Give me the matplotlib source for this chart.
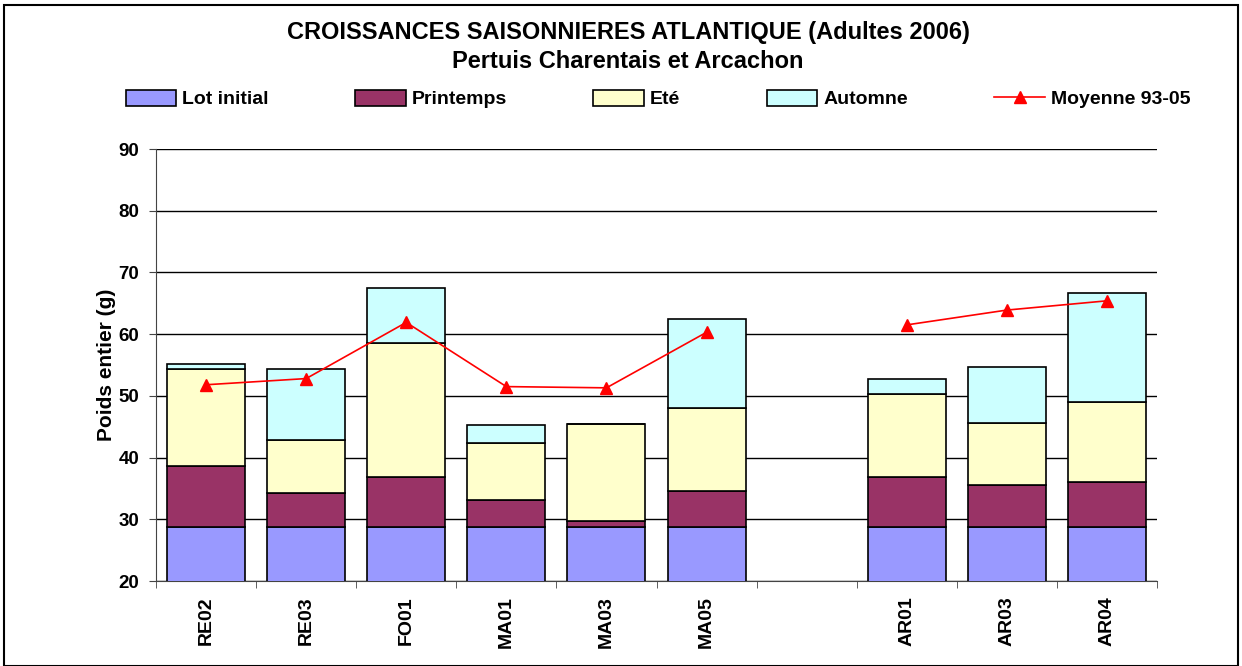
import numpy as np
import matplotlib
matplotlib.use("Agg")
import matplotlib.pyplot as plt
from matplotlib.patches import Rectangle

plt.rcParams['font.family'] = ['Liberation Sans', 'DejaVu Sans']

categories = ["RE02", "RE03", "FO01", "MA01", "MA03", "MA05", "", "AR01", "AR03", "AR04"]
# cumulative tops
lot_initial = [28.8, 28.8, 28.8, 28.8, 28.8, 28.8, np.nan, 28.8, 28.8, 28.8]
top_printemps = [38.6, 34.3, 36.8, 33.2, 29.8, 34.6, np.nan, 36.8, 35.6, 36.0]
top_ete = [54.4, 42.8, 58.5, 42.3, 45.4, 48.1, np.nan, 50.3, 45.6, 49.0]
top_automne = [55.2, 54.4, 67.5, 45.2, 45.4, 62.5, np.nan, 52.7, 54.6, 66.6]
moyenne = [51.8, 52.8, 61.9, 51.5, 51.3, 60.3, np.nan, 61.5, 63.9, 65.4]

series_names = ["Lot initial", "Printemps", "Eté", "Automne", "Moyenne 93-05"]
colors = ["#9999FF", "#993366", "#FFFFCC", "#CCFFFF"]

lot = np.array(lot_initial)
printemps = np.array(top_printemps) - lot
ete = np.array(top_ete) - np.array(top_printemps)
automne = np.array(top_automne) - np.array(top_ete)

fig = plt.figure(figsize=(12.42, 6.66), dpi=100)
ax = fig.add_axes([156/1242, 85/666, 1001/1242, 432/666])

x = np.arange(len(categories))
w = 0.78
bottom = np.zeros(len(categories))
handles = []
for vals, col, name in zip([lot, printemps, ete, automne], colors, series_names[:4]):
    v = np.nan_to_num(vals)
    b = ax.bar(x, v, w, bottom=bottom, color=col, edgecolor="black", linewidth=1.2,
               label=name, zorder=3)
    bottom = bottom + v
    handles.append(b)

ln, = ax.plot(x, moyenne, color="#FF0000", marker="^", markersize=9, linewidth=1.2,
              label=series_names[4], zorder=4)
handles.append(ln)

ax.set_xlim(-0.5, len(categories) - 0.5)
ax.set_ylim(20, 90)
ax.set_yticks(np.arange(20, 91, 10))
ax.yaxis.grid(True, color="black", linewidth=1.0, zorder=0)
ax.set_axisbelow(True)
for s in ["top", "right"]:
    ax.spines[s].set_visible(False)
ax.spines["left"].set_color("#444444")
ax.spines["bottom"].set_color("#444444")

ax.set_xticks(x)
ax.set_xticklabels(categories, rotation=90, fontsize=14, fontweight="bold")
ax.tick_params(axis="x", length=0, pad=11)
ax.set_xticks(np.arange(-0.5, len(categories), 1), minor=True)
ax.tick_params(axis="x", which="minor", length=5, direction="out", color="#444444")
ax.tick_params(axis="y", labelsize=13.5, length=5, pad=7, direction="out", color="#444444")
for t in ax.get_yticklabels():
    t.set_fontweight("bold")
ax.set_ylabel("Poids entier (g)", fontsize=15, fontweight="bold", labelpad=2)

fig.text(628/1242, 1 - 32/666, "CROISSANCES SAISONNIERES ATLANTIQUE (Adultes 2006)",
         ha="center", va="center", fontsize=17, fontweight="bold")
fig.text(628/1242, 1 - 62/666, "Pertuis Charentais et Arcachon",
         ha="center", va="center", fontsize=17, fontweight="bold")

leg = fig.legend(handles, series_names, loc="center left", ncol=5, mode="expand",
                 bbox_to_anchor=(118/1242, 1 - 99/666, 1080/1242, 0.0),
                 frameon=False, prop={"weight": "bold", "size": 14},
                 handlelength=2.6, handleheight=0.9, handletextpad=0.3, borderaxespad=0)

fig.patches.append(Rectangle((4/1242, 0), 1234/1242, 1 - 5/666, transform=fig.transFigure,
                             fill=False, edgecolor="black", linewidth=1.5))

fig.savefig("out.png", dpi=100)
